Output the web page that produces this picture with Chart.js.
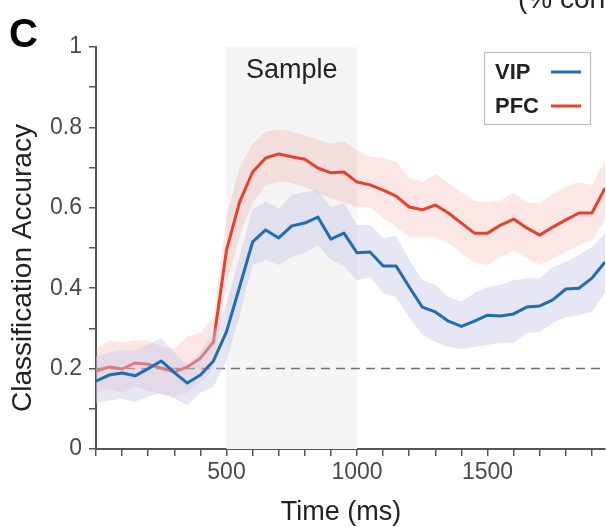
<!DOCTYPE html>
<html>
<head>
<meta charset="utf-8">
<script src="https://cdn.jsdelivr.net/npm/chart.js@4.4.1/dist/chart.umd.min.js"></script>
<style>
  body { margin: 0; background: #fff; }
  canvas { display: block; }
</style>
</head>
<body>
<canvas id="acc-chart" width="606" height="527"></canvas>
<script>
// time bins (ms)
var times = [0, 50, 100, 150, 200, 250, 300, 350, 400, 450,
    500, 550, 600, 650, 700, 750, 800, 850, 900, 950,
    1000, 1050, 1100, 1150, 1200, 1250, 1300, 1350, 1400, 1450,
    1500, 1550, 1600, 1650, 1700, 1750, 1800, 1850, 1900, 1950];

// VIP mean accuracy + band
var vipMean = [0.169, 0.184, 0.189, 0.182, 0.200, 0.219, 0.190, 0.164, 0.184, 0.219,
    0.292, 0.403, 0.515, 0.545, 0.525, 0.555, 0.562, 0.577, 0.522, 0.537,
    0.488, 0.490, 0.455, 0.455, 0.403, 0.353, 0.341, 0.318, 0.305, 0.318,
    0.333, 0.331, 0.336, 0.353, 0.356, 0.371, 0.398, 0.400, 0.425, 0.465];
var vipHigh = [0.230, 0.240, 0.245, 0.245, 0.260, 0.276, 0.240, 0.209, 0.240, 0.289,
    0.360, 0.480, 0.595, 0.617, 0.597, 0.632, 0.639, 0.644, 0.600, 0.612,
    0.557, 0.557, 0.525, 0.530, 0.470, 0.420, 0.408, 0.378, 0.366, 0.388,
    0.403, 0.408, 0.420, 0.425, 0.425, 0.453, 0.465, 0.483, 0.502, 0.537];
var vipLow = [0.114, 0.120, 0.125, 0.117, 0.130, 0.140, 0.125, 0.109, 0.140, 0.154,
    0.220, 0.330, 0.458, 0.470, 0.458, 0.478, 0.488, 0.507, 0.470, 0.455,
    0.420, 0.428, 0.388, 0.378, 0.328, 0.284, 0.266, 0.254, 0.249, 0.254,
    0.259, 0.264, 0.264, 0.289, 0.291, 0.313, 0.328, 0.333, 0.341, 0.390];

// PFC mean accuracy + band
var pfcMean = [0.194, 0.204, 0.199, 0.214, 0.211, 0.201, 0.192, 0.204, 0.226, 0.266,
    0.495, 0.614, 0.689, 0.724, 0.734, 0.727, 0.721, 0.699, 0.687, 0.689,
    0.664, 0.657, 0.644, 0.629, 0.602, 0.595, 0.607, 0.587, 0.562, 0.537,
    0.537, 0.557, 0.572, 0.550, 0.532, 0.552, 0.570, 0.587, 0.587, 0.649];
var pfcHigh = [0.250, 0.270, 0.265, 0.270, 0.270, 0.255, 0.250, 0.280, 0.290, 0.330,
    0.580, 0.700, 0.760, 0.790, 0.795, 0.790, 0.780, 0.770, 0.760, 0.765,
    0.744, 0.727, 0.724, 0.714, 0.674, 0.664, 0.684, 0.662, 0.639, 0.617,
    0.614, 0.619, 0.637, 0.614, 0.612, 0.634, 0.652, 0.664, 0.657, 0.720];
var pfcLow = [0.140, 0.150, 0.140, 0.155, 0.145, 0.135, 0.130, 0.140, 0.165, 0.200,
    0.410, 0.530, 0.612, 0.657, 0.664, 0.662, 0.652, 0.637, 0.624, 0.614,
    0.602, 0.600, 0.575, 0.552, 0.527, 0.527, 0.527, 0.512, 0.488, 0.463,
    0.458, 0.478, 0.493, 0.475, 0.458, 0.475, 0.490, 0.507, 0.520, 0.570];

var sampleWindow = [500, 1000];
var chanceLevel = 0.2;

var vipColor = "#1f6db4";
var pfcColor = "#e8412a";
var fontFam = "'Liberation Sans', Arial, sans-serif";

function pts(vals) {
    return vals.map(function (v, i) { return { x: times[i], y: v }; });
}

function band(vals, fillTo, color) {
    return {
        data: pts(vals),
        borderWidth: 0,
        pointRadius: 0,
        backgroundColor: color,
        fill: fillTo
    };
}

// shaded window, chance line, extra text
var decor = {
    id: 'decor',
    beforeDatasetsDraw: function (chart) {
        var ctx = chart.ctx, a = chart.chartArea;
        var xs = chart.scales.x, ys = chart.scales.y;
        var x0 = xs.getPixelForValue(sampleWindow[0]);
        var x1 = xs.getPixelForValue(sampleWindow[1]);
        ctx.save();
        ctx.fillStyle = "#f5f5f5";
        ctx.fillRect(x0, a.top, x1 - x0, a.bottom - a.top);

        var yc = ys.getPixelForValue(chanceLevel);
        ctx.strokeStyle = "#707070";
        ctx.lineWidth = 1.5;
        ctx.setLineDash([9, 6]);
        ctx.beginPath();
        ctx.moveTo(a.left, yc);
        ctx.lineTo(chart.width, yc);
        ctx.stroke();
        ctx.setLineDash([]);

        ctx.fillStyle = "#222";
        ctx.font = "27px " + fontFam;
        ctx.textAlign = "center";
        ctx.textBaseline = "alphabetic";
        ctx.fillText("Sample", (x0 + x1) / 2, 78);
        ctx.restore();
    },
    afterDraw: function (chart) {
        var ctx = chart.ctx;
        ctx.save();
        // panel letter
        ctx.fillStyle = "#000";
        ctx.font = "bold 40px " + fontFam;
        ctx.textAlign = "left";
        ctx.fillText("C", 9, 47);
        ctx.font = "28px " + fontFam;
        ctx.fillStyle = "#222";
        ctx.fillText("(% correct)", 518, 8);

        // axis titles
        ctx.font = "27px " + fontFam;
        ctx.textAlign = "center";
        ctx.fillText("Time (ms)", 341, 520);
        ctx.save();
        ctx.translate(31, 268);
        ctx.rotate(-Math.PI / 2);
        ctx.font = "28px " + fontFam;
        ctx.fillText("Classification Accuracy", 0, 0);
        ctx.restore();

        // legend
        ctx.fillStyle = "#fff";
        ctx.fillRect(484, 52, 106, 72);
        ctx.strokeStyle = "#bdbdbd";
        ctx.lineWidth = 1.2;
        ctx.strokeRect(484.5, 52.5, 106, 72);
        var items = [["VIP", vipColor, 72], ["PFC", pfcColor, 106]];
        ctx.font = "bold 22px " + fontFam;
        ctx.textAlign = "left";
        ctx.textBaseline = "middle";
        items.forEach(function (it) {
            ctx.fillStyle = "#222";
            ctx.fillText(it[0], 495, it[2] + 1);
            ctx.strokeStyle = it[1];
            ctx.lineWidth = 3;
            ctx.beginPath();
            ctx.moveTo(551, it[2]);
            ctx.lineTo(581, it[2]);
            ctx.stroke();
        });
        ctx.restore();
    }
};

var ctx = document.getElementById('acc-chart').getContext('2d');
var chart = new Chart(ctx, {
    type: 'line',
    data: {
        datasets: [
            {
                label: "VIP",
                data: pts(vipMean),
                borderColor: vipColor,
                borderWidth: 3,
                pointRadius: 0,
                fill: false,
                borderJoinStyle: 'round'
            },
            band(vipHigh, '+1', "rgba(200,200,230,0.45)"),
            band(vipLow, false, "rgba(0,0,0,0)"),
            {
                label: "PFC",
                data: pts(pfcMean),
                borderColor: pfcColor,
                borderWidth: 3,
                pointRadius: 0,
                fill: false,
                borderJoinStyle: 'round'
            },
            band(pfcHigh, '+1', "rgba(233,122,116,0.18)"),
            band(pfcLow, false, "rgba(0,0,0,0)")
        ]
    },
    options: {
        responsive: false,
        animation: false,
        devicePixelRatio: 1,
        layout: { padding: { left: 0, right: 1, top: 47, bottom: 0 } },
        plugins: {
            legend: { display: false },
            tooltip: { enabled: false }
        },
        scales: {
            x: {
                type: 'linear',
                min: 0,
                max: 1950,
                afterFit: function (s) { s.height = 78; },
                border: { color: "#555", width: 2 },
                grid: { drawOnChartArea: false, tickLength: 7, color: "#555", lineWidth: 1.5 },
                ticks: {
                    stepSize: 100,
                    includeBounds: false,
                    autoSkip: false,
                    maxRotation: 0,
                    padding: 3,
                    color: "#4a4a4a",
                    font: { size: 23, family: fontFam },
                    callback: function (v) { return (v > 0 && v % 500 === 0) ? String(v) : ''; }
                }
            },
            y: {
                min: 0,
                max: 1,
                afterFit: function (s) { s.width = 96; },
                border: { color: "#555", width: 2 },
                grid: { drawOnChartArea: false, tickLength: 7, color: "#555", lineWidth: 1.5 },
                ticks: {
                    stepSize: 0.1,
                    autoSkip: false,
                    padding: 7,
                    color: "#4a4a4a",
                    font: { size: 23, family: fontFam },
                    callback: function (v) {
                        var t = Math.round(v * 10);
                        return t % 2 === 0 ? String(t / 10) : '';
                    }
                }
            }
        }
    },
    plugins: [decor]
});
</script>
</body>
</html>
